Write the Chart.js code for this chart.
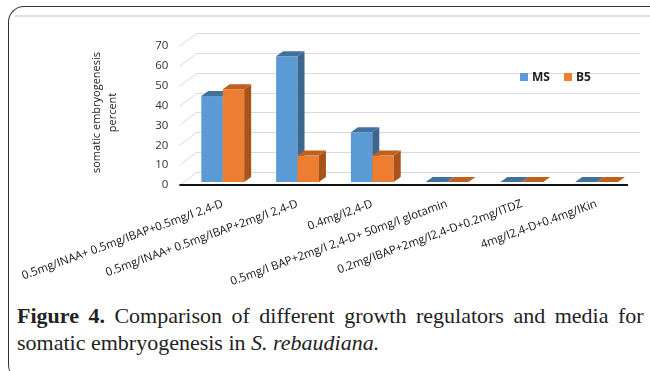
<!DOCTYPE html>
<html>
<head>
<meta charset="utf-8">
<script src="https://cdn.jsdelivr.net/npm/chart.js@4/dist/chart.umd.min.js"></script>
<style>
  body { margin: 0; background: #fff; width: 650px; height: 371px; overflow: hidden; position: relative; }
  #frame { position: absolute; left: 8px; top: 6px; width: 720px; height: 372px;
    border-top: 1px solid #333; border-left: 1px solid #333;
    border-top-left-radius: 16px; border-bottom-left-radius: 14px; }
  #inner { position: absolute; left: 15px; top: 15px; width: 640px; height: 0; border-top: 2px solid #dedede; }
  #wrap { position: absolute; left: 0; top: 0; width: 650px; height: 290px; }
  #legend { position: absolute; left: 520px; top: 68px; font: bold 12px "Open Sans", sans-serif; color: #222; white-space: nowrap; }
  #legend span.box { display: inline-block; width: 8px; height: 8px; margin-right: 4px; }
  #legend span.item { margin-right: 14px; }
  #caption { position: absolute; left: 17px; top: 302px; font: 22px "Liberation Serif", serif; color: #222;
    white-space: nowrap; line-height: 27px; }
  #caption .l1 { word-spacing: 4px; }
</style>
</head>
<body>
<div id="frame"></div>
<div id="inner"></div>
<div id="wrap"><canvas id="chart"></canvas></div>
<div id="legend"></div>
<div id="caption"><span class="l1"><b>Figure 4.</b> Comparison of different growth regulators and media for</span><br>somatic embryogenesis in <i>S. rebaudiana.</i></div>
<script>
const labels = [
  "0.5mg/INAA+ 0.5mg/IBAP+0.5mg/l 2,4-D",
  "0.5mg/INAA+ 0.5mg/IBAP+2mg/l 2,4-D",
  "0.4mg/l2,4-D",
  "0.5mg/l BAP+2mg/l 2,4-D+ 50mg/l glotamin",
  "0.2mg/IBAP+2mg/l2,4-D+0.2mg/ITDZ",
  "4mg/l2,4-D+0.4mg/IKin"
];
const msValues = [43.3, 63.3, 25, 0, 0, 0];
const b5Values = [46.7, 13.3, 13.3, 0, 0, 0];
const yTicks = [0, 10, 20, 30, 40, 50, 60, 70];

const faces = [
  { front: "#5b9bd5", side: "#3c6690", top: "#41719c" },
  { front: "#ed7d31", side: "#a8531c", top: "#c0601f" }
];

// depth of the fake 3D box
const DX = 7, DY = 5;

const wall3d = {
  id: "wall3d",
  beforeDatasetsDraw(chart) {
    const ctx = chart.ctx;
    const y = chart.scales.y;
    const area = chart.chartArea;
    ctx.save();
    ctx.strokeStyle = "#d9d9d9";
    ctx.lineWidth = 1;
    yTicks.forEach(v => {
      const py = Math.round(y.getPixelForValue(v)) + 0.5;
      ctx.beginPath();
      ctx.moveTo(area.left - 6, py + 3);
      ctx.lineTo(area.left + 11, py - 10);
      ctx.lineTo(area.right + 6, py - 10);
      ctx.stroke();
    });
    const p0 = y.getPixelForValue(0);
    ctx.strokeStyle = "#111";
    ctx.lineWidth = 2;
    ctx.beginPath();
    ctx.moveTo(area.left - 6, p0 + 3);
    ctx.lineTo(area.right - 6, p0 + 3);
    ctx.stroke();
    ctx.restore();
  },
  beforeDatasetDraw() {
    return false;
  },
  afterDatasetsDraw(chart) {
    const ctx = chart.ctx;
    const metas = chart.data.datasets.map((d, i) => chart.getDatasetMeta(i));
    ctx.save();
    labels.forEach((lab, j) => {
      metas.forEach((m, i) => {
        const el = m.data[j];
        const p = el.getProps(["x", "y", "base", "width"], true);
        const l = p.x - p.width / 2, r = p.x + p.width / 2;
        const f = faces[i];
        ctx.fillStyle = f.front;
        ctx.fillRect(l, p.y, p.width, p.base - p.y);
        ctx.fillStyle = f.side;
        ctx.beginPath();
        ctx.moveTo(r, p.y);
        ctx.lineTo(r + DX, p.y - DY);
        ctx.lineTo(r + DX, p.base - DY);
        ctx.lineTo(r, p.base);
        ctx.closePath();
        ctx.fill();
        ctx.fillStyle = f.top;
        ctx.beginPath();
        ctx.moveTo(l, p.y);
        ctx.lineTo(l + DX, p.y - DY);
        ctx.lineTo(r + DX, p.y - DY);
        ctx.lineTo(r, p.y);
        ctx.closePath();
        ctx.fill();
      });
    });
    ctx.restore();
  }
};

const chart = new Chart(document.getElementById("chart"), {
  type: "bar",
  data: {
    labels: labels,
    datasets: [
      { label: "MS", data: msValues, backgroundColor: faces[0].front },
      { label: "B5", data: b5Values, backgroundColor: faces[1].front }
    ]
  },
  options: {
    responsive: true,
    maintainAspectRatio: false,
    animation: false,
    layout: { padding: { left: 88, right: 16, top: 43, bottom: 0 } },
    plugins: {
      legend: { display: false },
      tooltip: { enabled: false }
    },
    datasets: { bar: { categoryPercentage: 0.573, barPercentage: 1 } },
    scales: {
      x: {
        grid: { display: false },
        border: { display: false },
        ticks: {
          autoSkip: false,
          maxRotation: 20,
          minRotation: 20,
          padding: 7,
          color: "#111",
          font: { family: "Open Sans", size: 11.5 }
        },
        afterFit: s => { s.height = 108; }
      },
      y: {
        min: 0,
        max: 70,
        grid: { display: false },
        border: { display: false },
        ticks: {
          stepSize: 10,
          padding: 9,
          labelOffset: 3,
          color: "#333",
          font: { family: "Open Sans", size: 11.5 }
        },
        title: {
          display: true,
          text: ["somatic embryogenesis", "percent"],
          color: "#222",
          padding: { top: 0, bottom: 40 },
          font: { family: "Open Sans", size: 11, lineHeight: 1.45 }
        },
        afterFit: s => { s.width = 96; }
      }
    }
  },
  plugins: [wall3d]
});

const legend = document.getElementById("legend");
chart.data.datasets.forEach(d => {
  const item = document.createElement("span");
  item.className = "item";
  const box = document.createElement("span");
  box.className = "box";
  box.style.background = d.backgroundColor;
  item.appendChild(box);
  item.appendChild(document.createTextNode(d.label));
  legend.appendChild(item);
});
</script>
</body>
</html>
